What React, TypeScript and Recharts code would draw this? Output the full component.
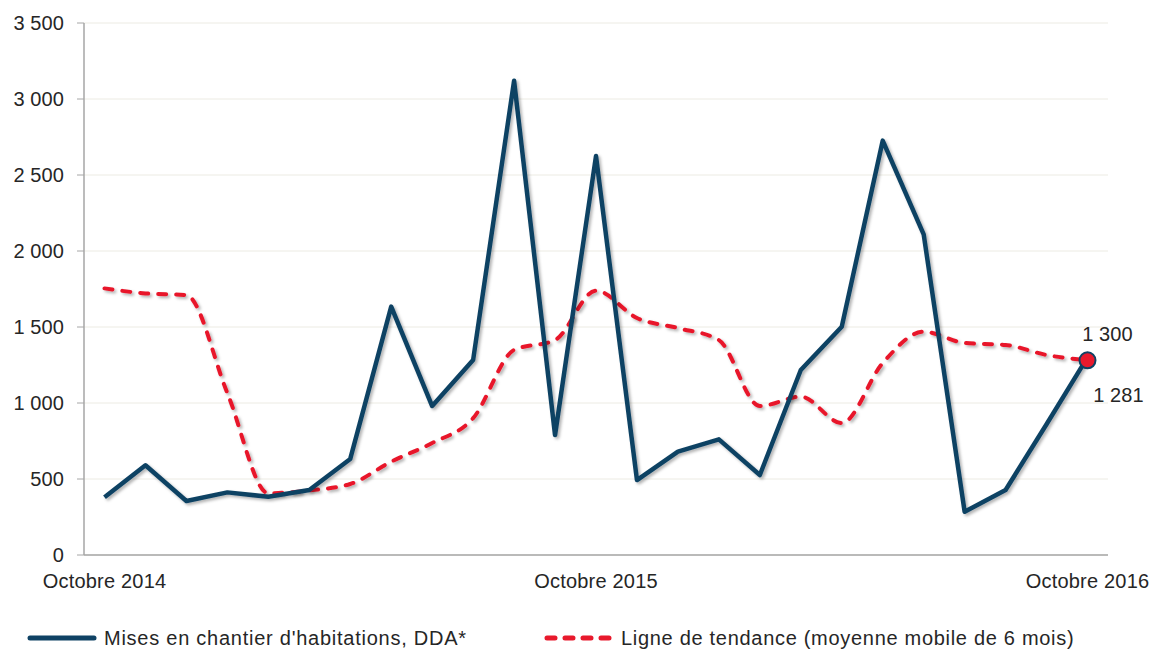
import React from "react";
import { LineChart, Line, XAxis, YAxis, CartesianGrid } from "recharts";

const months = [
  "Octobre 2014", "Novembre 2014", "Décembre 2014", "Janvier 2015", "Février 2015", "Mars 2015",
  "Avril 2015", "Mai 2015", "Juin 2015", "Juillet 2015", "Août 2015", "Septembre 2015",
  "Octobre 2015", "Novembre 2015", "Décembre 2015", "Janvier 2016", "Février 2016", "Mars 2016",
  "Avril 2016", "Mai 2016", "Juin 2016", "Juillet 2016", "Août 2016", "Septembre 2016",
  "Octobre 2016",
];
const misesEnChantier = [
  380, 590, 355, 412, 383, 428, 632, 1634, 980, 1283, 3120, 789,
  2625, 493, 680, 761, 526, 1217, 1502, 2726, 2110, 285, 428, 860, 1300,
];
const tendance = [
  1754, 1721, 1710, 1065, 406, 425, 467, 614, 737, 900, 1349, 1414,
  1739, 1559, 1493, 1414, 980, 1042, 868, 1263, 1469, 1395, 1382, 1316, 1281,
];
const xTicks = ["Octobre 2014", "Octobre 2015", "Octobre 2016"];
const yTicks = [0, 500, 1000, 1500, 2000, 2500, 3000, 3500];
const seriesNames = [
  "Mises en chantier d'habitations, DDA*",
  "Ligne de tendance (moyenne mobile de 6 mois)",
];

const data = months.map((m, i) => ({ month: m, mises: misesEnChantier[i], tendance: tendance[i] }));

const BLUE = "#0f4264";
const RED = "#e8192c";
const FONT = "'Liberation Sans', Arial, sans-serif";
const TEXT = "#262626";

const fmt = (v: number) => String(v).replace(/\B(?=(\d{3})+(?!\d))/g, " ");

const lastIdx = months.length - 1;

const RedEndDot = (props: any) => {
  const { cx, cy, index } = props;
  if (index !== lastIdx) return <g key={`d${index}`} />;
  return <circle key={`d${index}`} cx={cx} cy={cy} r={8} fill={RED} stroke={BLUE} strokeWidth={2} />;
};

const BlueLabel = (props: any) => {
  const { x, y, index } = props;
  if (index !== lastIdx) return null;
  return (
    <text x={x + 20} y={y - 16} textAnchor="middle" fontFamily={FONT} fontSize={20} letterSpacing={0.1} fill={TEXT}>
      {fmt(misesEnChantier[index])}
    </text>
  );
};

const RedLabel = (props: any) => {
  const { x, y, index } = props;
  if (index !== lastIdx) return null;
  return (
    <text x={x + 31} y={y + 42} textAnchor="middle" fontFamily={FONT} fontSize={20} letterSpacing={0.1} fill={TEXT}>
      {fmt(tendance[index])}
    </text>
  );
};

export default function App() {
  return (
    <div style={{ position: "absolute", left: 0, top: 0, width: 1156, height: 652, background: "#fff" }}>
      <LineChart
        width={1156}
        height={652}
        data={data}
        margin={{ top: 23, right: 48, left: 0, bottom: 57 }}
      >
        <defs>
          <filter id="shadow" x="-10%" y="-10%" width="120%" height="120%">
            <feDropShadow dx="2" dy="2" stdDeviation="1.5" floodColor="#000" floodOpacity="0.3" />
          </filter>
        </defs>
        <CartesianGrid vertical={false} stroke="#ecebe3" strokeWidth={1} />
        <XAxis
          dataKey="month"
          ticks={xTicks}
          interval={0}
          tickLine={false}
          axisLine={{ stroke: "#a6a6a6", strokeWidth: 1.5 }}
          padding={{ left: 20.5, right: 20.5 }}
          height={40}
          tickMargin={13}
          tick={{ fontFamily: FONT, fontSize: 20, fill: TEXT, letterSpacing: 0.2 }}
        />
        <YAxis
          width={84}
          domain={[0, 3500]}
          ticks={yTicks}
          interval={0}
          tickFormatter={fmt}
          tickSize={7}
          tickMargin={13}
          tickLine={{ stroke: "#a6a6a6" }}
          axisLine={{ stroke: "#a6a6a6", strokeWidth: 1.5 }}
          tick={{ fontFamily: FONT, fontSize: 20, fill: TEXT, letterSpacing: 0.1 }}
        />
        <Line
          type="monotone"
          dataKey="tendance"
          stroke={RED}
          strokeWidth={4}
          strokeDasharray="8 10"
          strokeLinecap="round"
          dot={false}
          activeDot={false}
          label={RedLabel}
          filter="url(#shadow)"
          isAnimationActive={false}
        />
        <Line
          type="linear"
          dataKey="mises"
          stroke={BLUE}
          strokeWidth={4.5}
          strokeLinejoin="round"
          dot={false}
          activeDot={false}
          label={BlueLabel}
          filter="url(#shadow)"
          isAnimationActive={false}
        />
        <Line
          type="monotone"
          dataKey="tendance"
          stroke="none"
          dot={RedEndDot}
          activeDot={false}
          legendType="none"
          isAnimationActive={false}
        />
      </LineChart>
      <svg width={1156} height={40} style={{ position: "absolute", left: 0, top: 620 }}>
        <line x1={30} y1={18} x2={94} y2={18} stroke={BLUE} strokeWidth={5} strokeLinecap="round" />
        <text x={104} y={25} fontFamily={FONT} fontSize={20} letterSpacing={0.75} fill={TEXT}>
          {seriesNames[0]}
        </text>
        <line x1={547} y1={18} x2={613} y2={18} stroke={RED} strokeWidth={5} strokeDasharray="8 10" strokeLinecap="round" />
        <text x={621} y={25} fontFamily={FONT} fontSize={20} letterSpacing={0.7} fill={TEXT}>
          {seriesNames[1]}
        </text>
      </svg>
    </div>
  );
}
